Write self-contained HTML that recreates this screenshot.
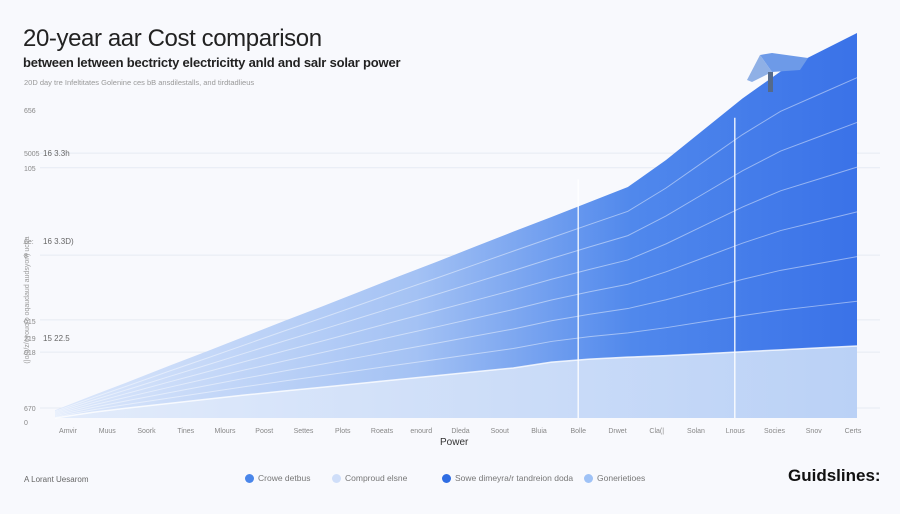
<!DOCTYPE html>
<html><head><meta charset="utf-8"><style>
body{margin:0;width:900px;height:514px;background:#f8f9fd;font-family:"Liberation Sans",sans-serif;overflow:hidden;position:relative}
.t{position:absolute;white-space:nowrap}
.lg{position:absolute;top:473px;font-size:8.5px;color:#777;white-space:nowrap}
.dot{display:inline-block;width:9px;height:9px;border-radius:50%;vertical-align:middle;margin-right:4px}
</style></head><body>
<div class="t" style="left:23px;top:25px;font-size:24px;color:#222;letter-spacing:-0.4px">20-year aar Cost comparison</div>
<div class="t" style="left:23px;top:55px;font-size:13px;font-weight:bold;color:#222;letter-spacing:-0.2px">between letween bectricty electricitty anld and salr solar power</div>
<div class="t" style="left:24px;top:78px;font-size:7.5px;color:#999">20D day tre Infeltitates Golenine ces bB ansdilestalls, and tirdtadlieus</div>
<svg id="chart" width="900" height="514" style="position:absolute;left:0;top:0">
<defs>
<linearGradient id="gUp" x1="0" x2="1" y1="0" y2="0"><stop offset="0" stop-color="#dde8fb"/><stop offset="0.45" stop-color="#a4c2f4"/><stop offset="0.72" stop-color="#5088ec"/><stop offset="1" stop-color="#3a72e8"/></linearGradient>
<linearGradient id="gLo" x1="0" x2="1" y1="0" y2="0"><stop offset="0" stop-color="#e3ecfb"/><stop offset="1" stop-color="#bad1f6"/></linearGradient>
</defs>
<g id="grid"></g><g id="areas"></g><g id="labels"></g>
</svg>
<div class="t" style="left:440px;top:437px;font-size:10px;color:#333">Power</div>
<div class="t" style="left:24px;top:475px;font-size:8px;color:#666">A Lorant Uesarom</div>
<span class="lg" style="left:245px"><span class="dot" style="background:#4a86ea"></span>Crowe detbus</span>
<span class="lg" style="left:332px"><span class="dot" style="background:#cfdef9"></span>Comproud elsne</span>
<span class="lg" style="left:442px"><span class="dot" style="background:#2f6de3"></span>Sowe dimeyra/r tandreion doda</span>
<span class="lg" style="left:584px"><span class="dot" style="background:#9fc2f6"></span>Gonerietioes</span>
<div class="t" style="left:788px;top:466px;font-size:17px;font-weight:bold;color:#111">Guidslines:</div>
<script>
const categories=["Amvir","Muus","Soork","Tines","Mlours","Poost","Settes","Plots","Roeats","enourd","Dleda","Soout","Bluia","Bolle","Drwet","Cla(|","Solan","Lnous","Socies","Snov","Certs","Cllons"];
const upperValues=[2,5.9,9.7,13.6,17.4,21.3,25.2,29,32.9,36.8,40.6,44.5,48.4,52.2,56.1,60,67,75,83,90,95,100];
const lowerValues=[0,1.5,2.7,3.8,4.9,6,7,8,9,10,11,12,13,14.5,15.3,15.8,16.2,16.7,17.2,17.7,18.2,18.7];
const yTickLabels=["656","5005","105","6e:","8","015","219","018","670","0"];
const yTickVals=[80,68.8,65,46,42.3,25.2,20.8,17.1,2.6,-1];
const annotations=["16 3.3h","16 3.3D)","15 22.5"];
const annotationVals=[68.8,46,20.8];
const gridVals=[68.8,65,42.3,25.5,17.1,2.6];
const X0=55,X1=857,Y0=418,Y1=33;
const xs=i=>X0+i*(X1-X0)/(categories.length-1);
const ys=v=>Y0-v*(Y0-Y1)/100;
const NS="http://www.w3.org/2000/svg";
const mk=(t,a,p)=>{const e=document.createElementNS(NS,t);for(const k in a)e.setAttribute(k,a[k]);p.appendChild(e);return e;};
const grid=document.getElementById('grid'),areas=document.getElementById('areas'),labels=document.getElementById('labels');
gridVals.forEach(v=>{const l=mk('line',{x1:40,x2:880,y1:ys(v),y2:ys(v),stroke:'#e6eaf3','stroke-width':1},grid);

});
let d=`M${xs(0)},${Y0}`;upperValues.forEach((v,i)=>d+=` L${xs(i)},${ys(v)}`);d+=` L${xs(upperValues.length-1)},${Y0}Z`;
const up=mk('path',{d,fill:'url(#gUp)'},areas);


let d2=`M${xs(0)},${Y0}`;lowerValues.forEach((v,i)=>d2+=` L${xs(i)},${ys(v)}`);d2+=` L${xs(lowerValues.length-1)},${Y0}Z`;
const lo=mk('path',{d:d2,fill:'url(#gLo)'},areas);


for(let k=1;k<7;k++){let p='';upperValues.forEach((v,i)=>{const lv=lowerValues[i];const yv=lv+(v-lv)*k/7;p+=(i?' L':'M')+xs(i)+','+ys(yv);});
const g=mk('path',{d:p,fill:'none',stroke:'#ffffff','stroke-opacity':0.45,'stroke-width':1},areas);

}
let pl='';lowerValues.forEach((v,i)=>pl+=(i?' L':'M')+xs(i)+','+ys(v));
const lt=mk('path',{d:pl,fill:'none',stroke:'#fff','stroke-width':1.5,'stroke-opacity':0.8},areas);


[13.7,17.8].forEach(i=>{const x=xs(i);const v=mk('line',{x1:x,x2:x,y1:ys(i>15?78:62),y2:Y0,stroke:'#fff','stroke-width':1.5,'stroke-opacity':0.85},areas);

});
const icon=mk('g',{},areas);


mk('polygon',{points:'760,55 772,53 808,58 800,70 772,72',fill:'#6d9ae8'},icon);
mk('polygon',{points:'760,55 747,80 752,82 772,72',fill:'#8fb0e6'},icon);
mk('rect',{x:768,y:72,width:5,height:20,fill:'#556a8a'},icon);
yTickLabels.forEach((t,i)=>{const e=mk('text',{x:24,y:ys(yTickVals[i])+3,'font-size':7,fill:'#888'},labels);e.textContent=t;

});
annotations.forEach((t,i)=>{const e=mk('text',{x:43,y:ys(annotationVals[i])+3,'font-size':8,fill:'#666'},labels);e.textContent=t;

});
const yt=mk('text',{x:0,y:0,'font-size':7,fill:'#999',transform:'translate(29,300) rotate(-90)','text-anchor':'middle'},labels);
yt.textContent='(|o/o/z/oyouo/o oqaudaud audsyon) ucha';


categories.slice(0,21).forEach((c,i)=>{const e=mk('text',{x:68+i*39.25,y:433,'font-size':7,fill:'#888','text-anchor':'middle'},labels);e.textContent=c;

});
</script>
</body></html>
